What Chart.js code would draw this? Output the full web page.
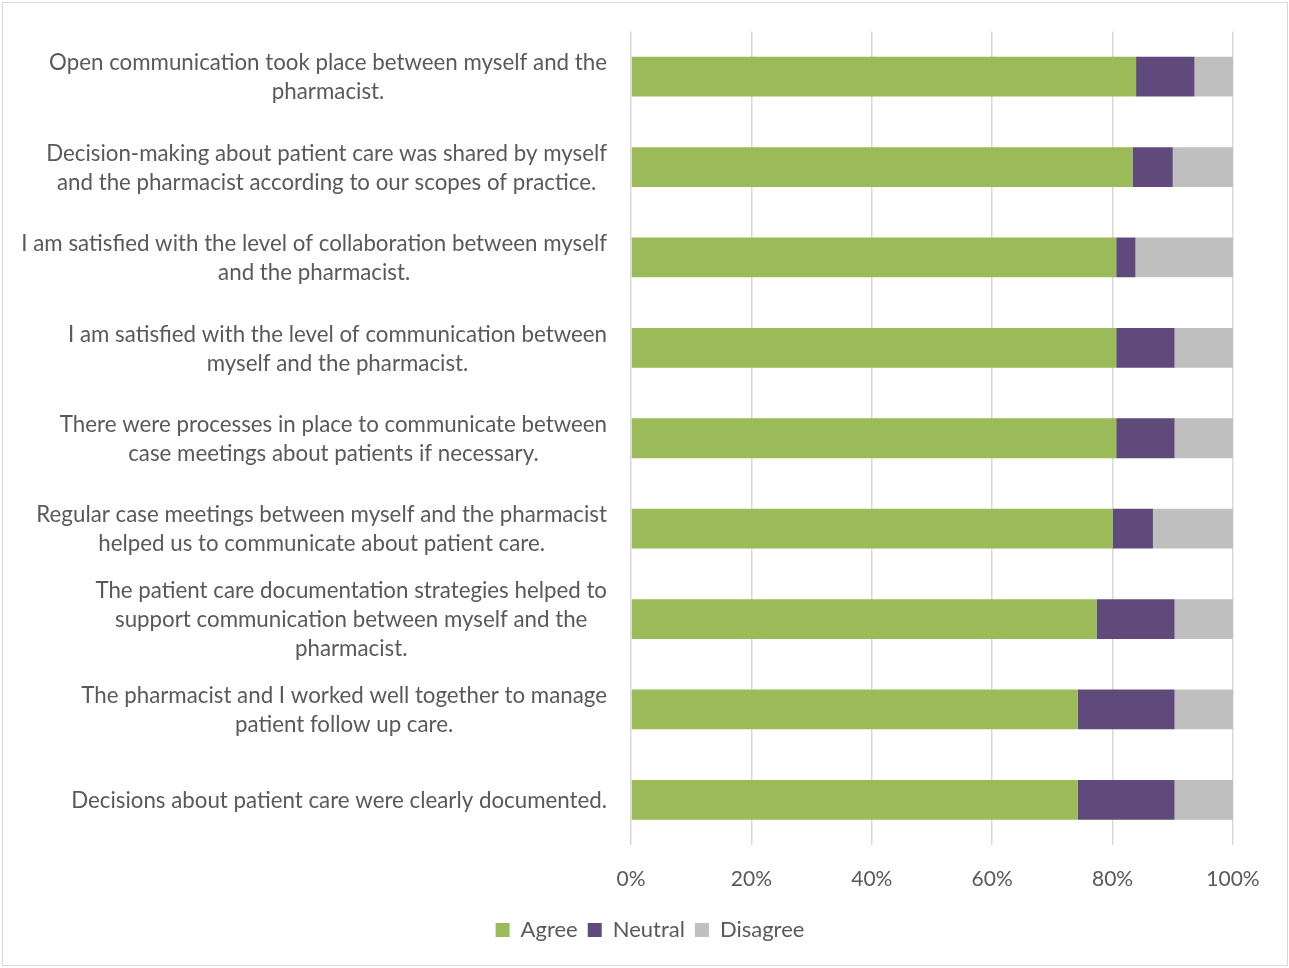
<!DOCTYPE html>
<html>
<head>
<meta charset="utf-8">
<script src="https://cdn.jsdelivr.net/npm/chart.js@4/dist/chart.umd.min.js"></script>
<style>
  html, body { margin: 0; padding: 0; background: #ffffff; }
  #wrap { position: relative; width: 1289px; height: 968px; }
  #frame { position: absolute; left: 2px; top: 2px; width: 1284px; height: 962px; border: 1.5px solid #D9D9D9; pointer-events: none; }
  canvas { display: block; }
</style>
</head>
<body>
<div id="wrap">
  <canvas id="chart" width="1289" height="968"></canvas>
  <div id="frame"></div>
</div>
<script>
// Survey statements, one array of lines per statement
const categories = [
  ["Open communication took place between myself and the", "pharmacist."],
  ["Decision-making about patient care was shared by myself", "and the pharmacist according to our scopes of practice."],
  ["I am satisfied with the level of collaboration between myself", "and the pharmacist."],
  ["I am satisfied with the level of communication between", "myself and the pharmacist."],
  ["There were processes in place to communicate between", "case meetings about patients if necessary."],
  ["Regular case meetings between myself and the pharmacist", "helped us to communicate about patient care."],
  ["The patient care documentation strategies helped to", "support communication between myself and the", "pharmacist."],
  ["The pharmacist and I worked well together to manage", "patient follow up care."],
  ["Decisions about patient care were clearly documented."]
];

// Share of responses (%)
const agree    = [83.9, 83.3, 80.6, 80.6, 80.6, 80.0, 77.4, 74.2, 74.2];
const neutral  = [9.7, 6.7, 3.2, 9.7, 9.7, 6.7, 12.9, 16.1, 16.1];
const disagree = [6.4, 10.0, 16.2, 9.7, 9.7, 13.3, 9.7, 9.7, 9.7];

const seriesNames = ["Agree", "Neutral", "Disagree"];
const xTicks = [0, 20, 40, 60, 80, 100];

const FONT_FAMILY = "Lato, 'Open Sans', sans-serif";
const LABEL_FONT_SIZE = 22.3;
const TICK_FONT_SIZE = 21;
const LEGEND_FONT_SIZE = 22;
const TEXT_COLOR = "#595959";

// Draws each statement as a centred text block whose right edge sits against the axis
const statementLabels = {
  id: "statementLabels",
  afterDraw(chart) {
    const ctx = chart.ctx;
    const yScale = chart.scales.y;
    const rightEdge = chart.chartArea.left - 24;
    const lineHeight = 29;
    ctx.save();
    ctx.font = LABEL_FONT_SIZE + "px " + FONT_FAMILY;
    ctx.fillStyle = TEXT_COLOR;
    ctx.textAlign = "center";
    ctx.textBaseline = "middle";
    categories.forEach((lines, i) => {
      const yc = yScale.getPixelForValue(i) + 1;
      const maxW = Math.max(...lines.map(l => ctx.measureText(l).width));
      const cx = rightEdge - maxW / 2;
      const y0 = yc - (lines.length - 1) * lineHeight / 2;
      lines.forEach((l, k) => ctx.fillText(l, cx, y0 + k * lineHeight));
    });
    ctx.restore();
  }
};

const ctx = document.getElementById("chart").getContext("2d");
new Chart(ctx, {
  type: "bar",
  data: {
    labels: categories,
    datasets: [
      { label: seriesNames[0], data: agree,    backgroundColor: "#9BBB59" },
      { label: seriesNames[1], data: neutral,  backgroundColor: "#604A7B" },
      { label: seriesNames[2], data: disagree, backgroundColor: "#BFBFBF" }
    ]
  },
  options: {
    indexAxis: "y",
    responsive: false,
    animation: false,
    devicePixelRatio: 1,
    layout: { padding: { top: 31.5, right: 56, left: 67, bottom: 17 } },
    datasets: { bar: { barPercentage: 0.44, categoryPercentage: 1.0 } },
    scales: {
      x: {
        stacked: true,
        min: 0,
        max: 100,
        afterBuildTicks(scale) { scale.ticks = xTicks.map(v => ({ value: v })); },
        afterFit(scale) { scale.height = 64; },
        grid: { color: "#D9D9D9", lineWidth: 1.5, drawTicks: false },
        border: { display: false },
        ticks: {
          padding: 22,
          color: TEXT_COLOR,
          font: { family: FONT_FAMILY, size: TICK_FONT_SIZE },
          callback: v => v + "%"
        }
      },
      y: {
        stacked: true,
        grid: { display: false },
        border: { display: false },
        ticks: { display: false },
        afterFit(scale) { scale.width = 564; }
      }
    },
    plugins: {
      legend: {
        position: "bottom",
        labels: {
          boxWidth: 14,
          boxHeight: 14,
          padding: 10,
          color: TEXT_COLOR,
          font: { family: FONT_FAMILY, size: LEGEND_FONT_SIZE }
        }
      },
      tooltip: { enabled: false }
    }
  },
  plugins: [statementLabels]
});
</script>
</body>
</html>
